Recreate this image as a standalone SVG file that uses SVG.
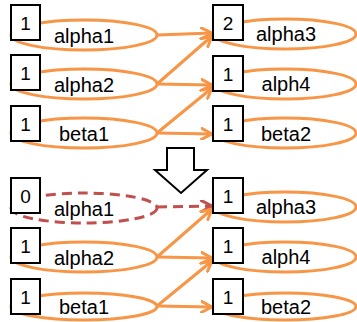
<svg xmlns="http://www.w3.org/2000/svg" width="357" height="322" viewBox="0 0 357 322">
<defs>
<style>
.ell{fill:none;stroke:#F79646;stroke-width:3}
.dell{fill:none;stroke:#C0504D;stroke-width:3;stroke-dasharray:10 6}
.box{fill:#fff;stroke:#000;stroke-width:2}
.num{font-family:"Liberation Sans",Arial,sans-serif;font-size:19px;text-anchor:middle;fill:#000}
.lbl{font-family:"Liberation Sans",Arial,sans-serif;font-size:20px;text-anchor:middle;fill:#000}
.con{fill:none;stroke:#F79646;stroke-width:3;marker-end:url(#ah)}
.dcon{fill:none;stroke:#C0504D;stroke-width:3;stroke-dasharray:10 6;marker-end:url(#ahr)}
</style>
<marker id="ah" viewBox="0 0 13 13" markerWidth="13" markerHeight="13" refX="11.5" refY="6.5" orient="auto" markerUnits="userSpaceOnUse">
<path d="M1,1 L11.5,6.5 L1,12" fill="none" stroke="#F79646" stroke-width="3" stroke-linecap="round" stroke-linejoin="round"/>
</marker>
<marker id="ahr" viewBox="0 0 13 13" markerWidth="13" markerHeight="13" refX="11.5" refY="6.5" orient="auto" markerUnits="userSpaceOnUse">
<path d="M1,1 L11.5,6.5 L1,12" fill="none" stroke="#C0504D" stroke-width="3" stroke-linecap="round" stroke-linejoin="round"/>
</marker>
</defs>
<rect width="357" height="322" fill="#fff"/>

<g id="connectors">
<line class="con" x1="157" y1="35" x2="212" y2="33"/>
<line class="con" x1="157" y1="84" x2="212" y2="36"/>
<line class="con" x1="157" y1="84" x2="212" y2="85"/>
<line class="con" x1="157" y1="133" x2="212" y2="88"/>
<line class="con" x1="157" y1="133" x2="212" y2="134"/>
<line class="dcon" x1="157" y1="207" x2="212" y2="206"/>
<line class="con" x1="157" y1="257" x2="212" y2="209"/>
<line class="con" x1="157" y1="257" x2="212" y2="258"/>
<line class="con" x1="157" y1="306" x2="212" y2="261"/>
<line class="con" x1="157" y1="306" x2="212" y2="307"/>
</g>

<g id="top-alpha1"><ellipse class="ell" cx="84" cy="35" rx="73" ry="15"/><rect class="box" x="11" y="5" width="29" height="35"/><text class="num" x="25.5" y="30">1</text><text class="lbl" x="84" y="43">alpha1</text></g>
<g id="top-alpha2"><ellipse class="ell" cx="84" cy="84" rx="73" ry="15"/><rect class="box" x="11" y="55" width="29" height="35"/><text class="num" x="25.5" y="80">1</text><text class="lbl" x="84" y="92">alpha2</text></g>
<g id="top-beta1"><ellipse class="ell" cx="84" cy="133" rx="73" ry="15"/><rect class="box" x="11" y="106" width="29" height="35"/><text class="num" x="25.5" y="131">1</text><text class="lbl" x="84" y="141">beta1</text></g>

<g id="top-alpha3"><ellipse class="ell" cx="285" cy="34" rx="71" ry="15"/><rect class="box" x="213" y="5" width="30" height="35"/><text class="num" x="228" y="30">2</text><text class="lbl" x="286" y="41">alpha3</text></g>
<g id="top-alph4"><ellipse class="ell" cx="285" cy="84" rx="71" ry="15"/><rect class="box" x="213" y="56" width="30" height="35"/><text class="num" x="228" y="81">1</text><text class="lbl" x="286" y="91">alph4</text></g>
<g id="top-beta2"><ellipse class="ell" cx="285" cy="133" rx="71" ry="15"/><rect class="box" x="213" y="106" width="30" height="35"/><text class="num" x="228" y="131">1</text><text class="lbl" x="286" y="141">beta2</text></g>

<g id="down-arrow"><polygon points="167,148 194,148 194,170 207,170 181,193 155,170 167,170" fill="#fff" stroke="#000" stroke-width="2"/></g>

<g id="bot-alpha1"><ellipse class="dell" cx="84" cy="208" rx="73" ry="15"/><rect class="box" x="11" y="178" width="29" height="35"/><text class="num" x="25.5" y="203">0</text><text class="lbl" x="84" y="216">alpha1</text></g>
<g id="bot-alpha2"><ellipse class="ell" cx="84" cy="257" rx="73" ry="15"/><rect class="box" x="11" y="228" width="29" height="35"/><text class="num" x="25.5" y="253">1</text><text class="lbl" x="84" y="265">alpha2</text></g>
<g id="bot-beta1"><ellipse class="ell" cx="84" cy="306.5" rx="73" ry="13.5"/><rect class="box" x="11" y="279" width="29" height="35"/><text class="num" x="25.5" y="304">1</text><text class="lbl" x="84" y="314">beta1</text></g>

<g id="bot-alpha3"><ellipse class="ell" cx="285" cy="207" rx="71" ry="15"/><rect class="box" x="213" y="178" width="30" height="35"/><text class="num" x="228" y="203">1</text><text class="lbl" x="286" y="214">alpha3</text></g>
<g id="bot-alph4"><ellipse class="ell" cx="285" cy="257" rx="71" ry="15"/><rect class="box" x="213" y="228" width="30" height="35"/><text class="num" x="228" y="253">1</text><text class="lbl" x="286" y="264">alph4</text></g>
<g id="bot-beta2"><ellipse class="ell" cx="285" cy="306.5" rx="71" ry="13.5"/><rect class="box" x="213" y="279" width="30" height="35"/><text class="num" x="228" y="304">1</text><text class="lbl" x="286" y="314">beta2</text></g>
</svg>
